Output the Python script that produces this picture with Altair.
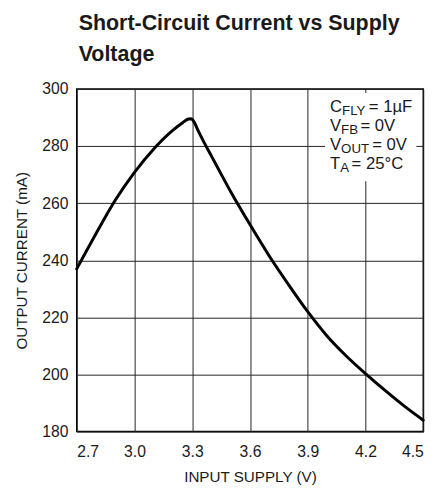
import altair as alt
import pandas as pd

# Data
supply_v = [2.70, 2.80, 2.90, 3.00, 3.10, 3.20, 3.25, 3.28, 3.295, 3.31, 3.33, 3.36,
            3.40, 3.45, 3.50, 3.60, 3.70, 3.80, 3.90, 4.00, 4.10, 4.20, 4.30, 4.40, 4.50]
current_ma = [237.0, 249.3, 261.0, 270.8, 279.0, 285.6, 288.2, 289.5, 289.6, 288.4, 285.5, 281.5,
              276.5, 270.2, 264.0, 252.5, 241.5, 231.5, 222.0, 213.5, 206.5, 200.3, 194.5, 189.0, 184.0]

x_ticks = [2.7, 3.0, 3.3, 3.6, 3.9, 4.2, 4.5]
y_ticks = [180, 200, 220, 240, 260, 280, 300]

title_lines = ["Short-Circuit Current vs Supply", "Voltage"]
x_title = "INPUT SUPPLY (V)"
y_title = "OUTPUT CURRENT (mA)"

# annotation lines: main letter, subscript, remainder
note_main = ["C", "V", "V", "T"]
note_sub = ["FLY", "FB", "OUT", "A"]
note_rest = ["= 1\u00b5F", "= 0V", "= 0V", "= 25\u00b0C"]

FONT = "Liberation Sans, Arial, sans-serif"
INK = "#1a1a1a"

df = pd.DataFrame({"v": supply_v, "i": current_ma})

W, H = 353, 349

line = alt.Chart(df).mark_line(color="black", strokeWidth=3, interpolate="monotone",
                               strokeJoin="round", strokeCap="round").encode(
    x=alt.X("v:Q", scale=alt.Scale(domain=[2.7, 4.5], nice=False, zero=False),
            axis=alt.Axis(values=x_ticks, format=".1f", title=x_title)),
    y=alt.Y("i:Q", scale=alt.Scale(domain=[180, 300], nice=False, zero=False),
            axis=alt.Axis(values=y_ticks, format="d", title=y_title)),
)

one = alt.Data(values=[{"k": 1}])

box = alt.Chart(one).mark_rect(color="white").encode(
    x=alt.value(253), x2=alt.value(346), y=alt.value(4), y2=alt.value(94)
)

layers = [box, line]
line_y = [23, 42.5, 62, 81.5]
main_x = 258
sub_x = [270.3, 269.3, 269.3, 268.4]
rest_x = [297.5, 289, 301, 280]
for k in range(4):
    layers.append(alt.Chart(one).mark_text(align="left", baseline="alphabetic", font=FONT,
                                           fontSize=17, color=INK).encode(
        x=alt.value(main_x), y=alt.value(line_y[k]), text=alt.value(note_main[k])))
    layers.append(alt.Chart(one).mark_text(align="left", baseline="alphabetic", font=FONT,
                                           fontSize=13.5, color=INK).encode(
        x=alt.value(sub_x[k]), y=alt.value(line_y[k] + 3), text=alt.value(note_sub[k])))
    layers.append(alt.Chart(one).mark_text(align="left", baseline="alphabetic", font=FONT,
                                           fontSize=17, color=INK).encode(
        x=alt.value(rest_x[k]), y=alt.value(line_y[k]), text=alt.value(note_rest[k])))

chart = alt.layer(*layers).properties(
    width=W, height=H,
    autosize=alt.AutoSizeParams(type="none"),
    padding={"left": 70, "top": 78, "right": 14, "bottom": 56},
    title=alt.TitleParams(title_lines, anchor="start", frame="group", font=FONT,
                          fontSize=21.8, fontWeight="bold", lineHeight=31, offset=16,
                          color=INK, dx=2),
).configure_view(stroke="black", strokeWidth=1.5).configure_axis(
    grid=True, gridColor="#222222", gridWidth=1, gridOpacity=1,
    domain=False, ticks=False, tickSize=0,
    labelFont=FONT, labelFontSize=16, labelColor=INK,
    titleFont=FONT, titleFontSize=15.5, titleColor=INK, titleFontWeight="normal",
).configure_axisX(
    labelPadding=12, titleY=51, titleBaseline="alphabetic",
).configure_axisY(
    labelPadding=9, titleX=-56, titleBaseline="middle", titleAngle=-90,
)

chart.save("out.html", embed_options={"renderer": "svg", "actions": False})
